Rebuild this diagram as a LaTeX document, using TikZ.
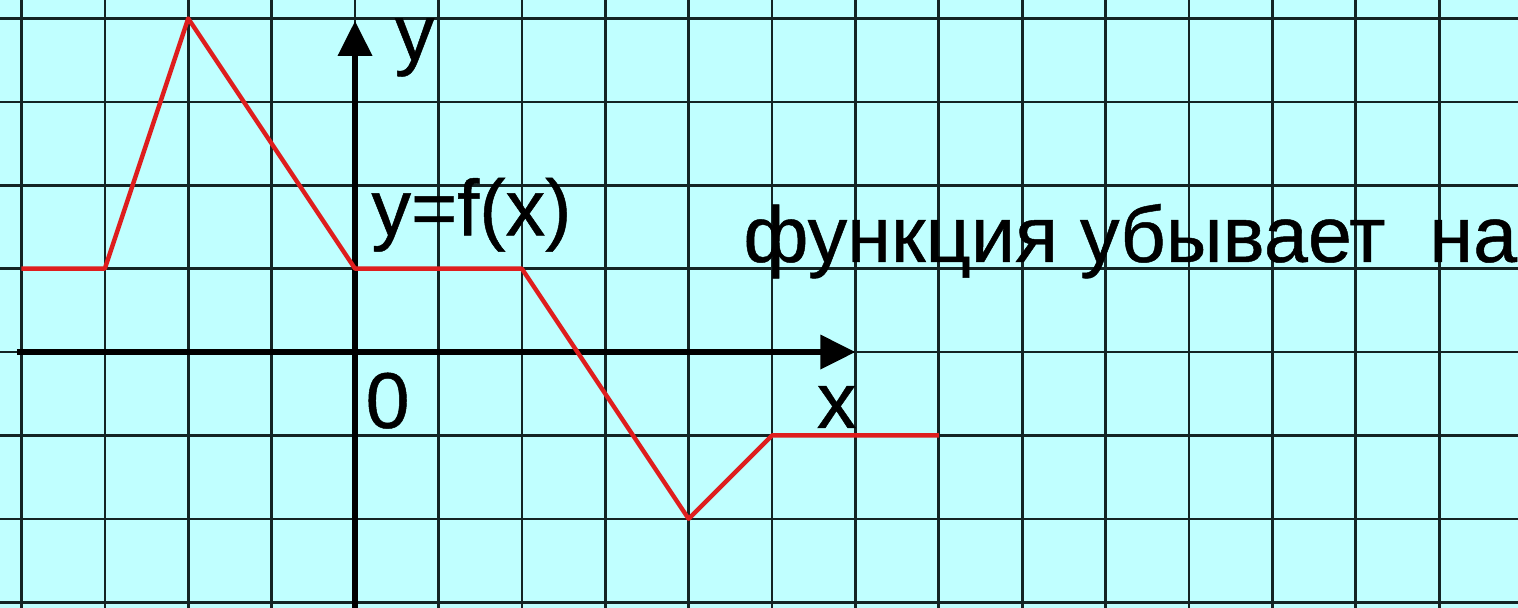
\documentclass[tikz,border=0pt]{standalone}
\usepackage{fontspec}
\setmainfont{Liberation Sans}
\newfontfamily\lblfont[FakeBold=0.6]{Liberation Sans}
\usetikzlibrary{arrows.meta}
\definecolor{bg}{RGB}{192,255,255}
\definecolor{gridc}{RGB}{20,36,36}
\definecolor{curve}{RGB}{222,30,30}
\begin{document}
\begin{tikzpicture}[
  lbl/.style={font=\lblfont\fontsize{27}{32}\selectfont, inner sep=0pt, anchor=base west},
  axisline/.style={line width=2pt, -{Triangle[length=4.2mm,width=4mm]}},
  gridline/.style={gridc, line width=0.9pt},
  graph/.style={curve, line width=1.5pt, line join=round}
]
\fill[bg] (-4.257,-3.069) rectangle (13.945,4.221);
\useasboundingbox (-4.257,-3.069) rectangle (13.945,4.221);
\draw[gridline] (-4.257,-3.069) grid (13.945,4.221);
% axes
\coordinate (xs) at (-4.05,0);
\coordinate (xe) at (6,0);
\coordinate (ys) at (0,-3.1);
\coordinate (ye) at (0,3.97);
\draw[axisline] (xs) -- (xe);
\draw[axisline] (ys) -- (ye);
% graph of f
\coordinate (p0) at (-4,1);
\coordinate (p1) at (-3,1);
\coordinate (p2) at (-2,4);
\coordinate (p3) at (0,1);
\coordinate (p4) at (2,1);
\coordinate (p5) at (4,-2);
\coordinate (p6) at (5,-1);
\coordinate (p7) at (7,-1);
\draw[graph] (p0) -- (p1) -- (p2) -- (p3) -- (p4) -- (p5) -- (p6) -- (p7);
% labels
\node[lbl] (ylab) at (0.47,3.50) {y};
\node[lbl] (flab) at (0.19,1.40) {y=f(x)};
\node[lbl] (olab) at (0.12,-0.91) {0};
\node[lbl] (xlab) at (5.53,-0.91) {x};
\node[lbl] (txt) at (4.65,1.08) {функция убывает\ \ на};
\end{tikzpicture}
\end{document}
